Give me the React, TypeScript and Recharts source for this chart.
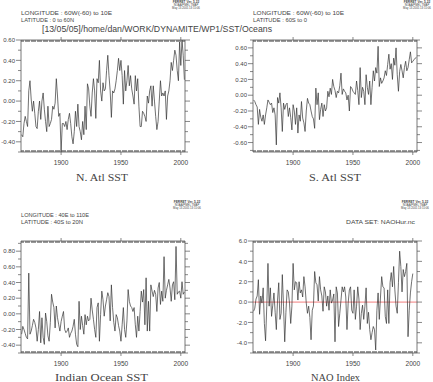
import React from 'react';
import { LineChart, Line, XAxis, YAxis, ReferenceLine } from 'recharts';

const W = 433;
const H = 382;
const START_YEAR = 1867;

// N. Atlantic SST anomaly, annual, 1867-2003
const naValues = [
  -0.33, -0.35, -0.22,
  -0.15, -0.20, -0.25, 0.10, 0.20, 0.02, -0.10, 0.00, -0.12, -0.25,
  -0.27, -0.10, 0.00, -0.18, 0.00, 0.08, -0.08, -0.20, -0.30, -0.05,
  -0.25, -0.22, -0.18, -0.05, -0.08, -0.02, 0.22, 0.05, -0.15, -0.12,
  -0.50, -0.22, -0.22, -0.25, -0.20, -0.28, -0.18, -0.12, -0.22, -0.35,
  -0.42, -0.30, -0.10, -0.25, -0.03, -0.25, -0.30, -0.38, -0.20, -0.33,
  -0.05, -0.28, 0.17, 0.12, -0.05, -0.15, 0.08, 0.22, 0.10, -0.17,
  0.22, 0.18, 0.40, 0.10, 0.00, 0.18, 0.10, 0.12, 0.30, 0.45,
  0.25, 0.10, -0.16, 0.10, 0.08, 0.12, 0.20, 0.30, 0.42, 0.30,
  0.40, 0.25, -0.03, 0.30, 0.10, 0.20, 0.35, 0.15, 0.25, 0.12,
  0.05, -0.03, 0.25, 0.10, 0.22, -0.05, -0.25, -0.25, -0.10, -0.12,
  -0.15, -0.20, 0.05, -0.02, 0.10, 0.15, -0.05, 0.15, 0.00, -0.15,
  -0.28, -0.20, 0.00, 0.20, 0.05, 0.08, 0.05, 0.10, -0.18, 0.05,
  0.10, 0.20, 0.38, 0.30, 0.40, 0.50, 0.45, 0.30, 0.20, 0.58,
  0.35, 0.60, 0.45, 0.21,
];

// S. Atlantic SST anomaly, annual, 1867-2003
const saValues = [
  -0.06, -0.08, -0.12,
  -0.15, -0.37, -0.18, -0.28, -0.33, -0.25, -0.37, -0.25, -0.16, -0.06,
  -0.09, -0.12, -0.10, -0.22, -0.16, -0.25, -0.63, -0.03, -0.10, 0.03,
  -0.16, -0.46, -0.10, -0.18, -0.12, -0.10, -0.27, -0.16, -0.28, -0.44,
  -0.12, -0.20, -0.37, -0.16, -0.48, -0.25, -0.33, -0.08, -0.29, -0.35,
  -0.46, -0.20, -0.04, -0.10, -0.12, -0.20, -0.27, -0.30, -0.42, 0.09,
  -0.12, 0.03, -0.31, -0.18, -0.10, -0.27, -0.12, -0.20, -0.16, 0.05,
  -0.02, 0.09, 0.01, 0.20, 0.11, 0.06, -0.03, 0.05, 0.03, 0.12,
  0.28, 0.01, 0.08, 0.05, 0.03, -0.06, 0.00, -0.20, 0.11, 0.09,
  0.05, 0.03, 0.01, 0.18, 0.06, -0.12, 0.35, -0.03, 0.10, 0.05,
  -0.12, 0.26, 0.10, 0.01, 0.18, -0.12, 0.10, 0.31, 0.18, 0.35,
  0.28, 0.62, 0.11, 0.22, 0.15, 0.18, 0.22, 0.31, 0.25, 0.39,
  0.52, 0.33, 0.40, 0.20, 0.47, 0.38, 0.60, 0.26, 0.05, 0.30,
  0.39, 0.31, 0.22, 0.35, 0.43, 0.31, 0.35, 0.45, 0.55, 0.41,
  0.43, 0.45, 0.47, 0.48,
];

// Indian Ocean SST anomaly, annual, 1867-2003
const ioValues = [
  -0.26, -0.16, -0.20,
  -0.25, -0.30, -0.32, 0.52, -0.26, -0.22, -0.15, -0.07, -0.11, -0.18,
  -0.35, -0.20, 0.03, -0.37, -0.05, -0.30, -0.39, 0.01, -0.10, -0.28,
  -0.35, -0.11, 0.25, 0.15, 0.08, -0.18, 0.10, -0.05, -0.14, -0.22,
  -0.10, -0.03, 0.03, -0.20, -0.24, -0.22, -0.18, -0.30, -0.25, -0.22,
  -0.16, -0.07, -0.26, -0.39, -0.42, 0.16, -0.20, -0.03, -0.15, -0.26,
  -0.01, -0.14, -0.03, -0.09, -0.07, 0.20, 0.05, -0.07, -0.20, -0.30,
  0.08, 0.14, -0.35, -0.01, 0.29, 0.18, -0.03, 0.10, 0.18, 0.27,
  0.22, -0.09, 0.37, 0.08, -0.11, -0.22, -0.01, -0.05, -0.15, -0.22,
  -0.35, -0.14, 0.08, -0.20, -0.30, -0.09, 0.31, 0.16, 0.10, 0.08,
  0.03, 0.08, -0.14, -0.30, -0.03, -0.22, 0.03, 0.29, 0.15, 0.31,
  -0.14, 0.46, -0.22, 0.16, -0.22, 0.37, 0.29, 0.22, 0.30, 0.25,
  0.03, 0.33, 0.40, 0.12, 0.29, 0.16, 0.73, 0.20, 0.30, 0.37,
  0.44, 0.33, 0.16, 0.37, 0.41, 0.18, 0.86, 0.25, 0.28, 0.29,
  0.20, 0.41, 0.25, 0.28,
];

// NAO index, annual, 1867-2000
const naoValues = [
  -0.9, -0.6, 0.3,
  0.6, 2.2, -1.2, 0.6, -0.1, 1.4, -2.1, -3.8, -0.4, 3.8,
  -0.4, 1.4, -1.4, -0.3, 0.9, -1.0, -2.7, 0.2, 1.9, -1.7,
  -1.1, 2.7, -0.4, -3.9, -1.0, 1.2, 1.0, -0.1, -2.1, -0.4,
  3.8, 1.2, 2.0, 1.9, 0.2, 2.0, 0.9, 1.2, 0.5, 2.5,
  1.5, -0.1, -1.1, -0.4, -1.5, -3.7, -0.8, -0.4, 3.0, 1.9,
  1.7, 0.1, 2.5, 1.2, 0.6, -0.9, 1.5, 1.0, -0.4, 0.6,
  -0.8, 1.2, -0.1, 0.2, 0.8, -3.9, 1.5, 0.9, -2.4, -1.1,
  0.2, 1.5, 1.0, 1.5, 0.5, -2.7, -0.1, 1.2, 1.5, -0.8,
  -1.1, 1.2, -1.7, -0.4, 1.5, 0.3, -2.7, -1.1, -0.3, -1.7,
  -0.4, 1.4, -2.1, -1.0, -2.7, -3.7, -3.0, -2.4, -2.7, -4.7,
  -0.8, 0.9, -1.7, 0.5, 2.5, 1.5, 1.4, -1.4, -2.1, 1.2,
  -2.1, 1.9, 2.9, 1.5, 3.5, 1.2, -0.4, -1.1, 1.9, 5.0,
  3.5, 1.0, 3.2, 2.5, 3.0, 3.8, -3.4, -0.8, 0.9, 2.0,
  2.8,
];

const yearDomain = [1866.5, 2003.5];
const yearMajor = [1900, 1950, 2000];
const yearTicks = Array.from({ length: 137 }, (_, i) => START_YEAR + i);

const naYMajor = [-0.4, -0.2, 0, 0.2, 0.4, 0.6];
const naYMinor = [-0.5, -0.3, -0.1, 0.1, 0.3, 0.5];
const saYMajor = [-0.6, -0.4, -0.2, 0, 0.2, 0.4, 0.6];
const saYMinor = [-0.7, -0.5, -0.3, -0.1, 0.1, 0.3, 0.5, 0.7];
const ioYMajor = [-0.4, -0.2, 0, 0.2, 0.4, 0.6, 0.8];
const ioYMinor = [-0.5, -0.3, -0.1, 0.1, 0.3, 0.5, 0.7, 0.9];
const naoYMajor = [-4, -2, 0, 2, 4, 6];
const naoYMinor = [-5, -3, -1, 1, 3, 5];

const SANS = '"Liberation Sans", Arial, sans-serif';
const SERIF = '"Liberation Serif", "Times New Roman", serif';
const AX = '#555';
const TXT = '#444';

const isIn = (arr: number[], v: number) => arr.some((m) => Math.abs(m - v) < 1e-6);

const makeYTick = (side: 'left' | 'right', majors: number[], digits: number) => (props: any) => {
  const { x, y, payload } = props;
  const v = payload.value;
  const major = isIn(majors, v);
  const len = major ? 5 : 3;
  const dir = side === 'left' ? -1 : 1;
  return (
    <g>
      <line x1={x} x2={x + dir * len} y1={y} y2={y} stroke={AX} strokeWidth={0.7} />
      {side === 'left' && major ? (
        <text x={x - 6} y={y} dy="0.36em" textAnchor="end" fontSize={6} fontFamily={SANS} fill={TXT}>
          {v.toFixed(digits)}
        </text>
      ) : null}
    </g>
  );
};

const makeXTick = (side: 'top' | 'bottom') => (props: any) => {
  const { x, y, payload } = props;
  const v = payload.value;
  const major = isIn(yearMajor, v);
  const inward = side === 'bottom' ? -1 : 1;
  return (
    <g>
      <line x1={x} x2={x} y1={y} y2={y + inward * 2} stroke={AX} strokeWidth={0.6} shapeRendering="crispEdges" />
      {major ? (
        <line x1={x} x2={x} y1={y} y2={y - inward * 3} stroke={AX} strokeWidth={0.7} />
      ) : null}
      {side === 'bottom' && major ? (
        <text x={x} y={y + 12.5} textAnchor="middle" fontSize={6.6} fontFamily={SANS} fill={TXT}>
          {String(v)}
        </text>
      ) : null}
    </g>
  );
};

type PanelSpec = {
  values: number[];
  left: number;
  top: number;
  right: number;
  bottom: number;
  yDomain: [number, number];
  yMajor: number[];
  yMinor: number[];
  digits: number;
  zeroLine?: boolean;
};

const panels: PanelSpec[] = [
  { values: naValues, left: 21, top: 40, right: 185, bottom: 152, yDomain: [-0.5, 0.6], yMajor: naYMajor, yMinor: naYMinor, digits: 2 },
  { values: saValues, left: 253, top: 40, right: 417, bottom: 152, yDomain: [-0.72, 0.7], yMajor: saYMajor, yMinor: saYMinor, digits: 2 },
  { values: ioValues, left: 21, top: 241, right: 185, bottom: 353, yDomain: [-0.5, 0.93], yMajor: ioYMajor, yMinor: ioYMinor, digits: 2 },
  { values: naoValues, left: 253, top: 241, right: 417, bottom: 353, yDomain: [-5, 6], yMajor: naoYMajor, yMinor: naoYMinor, digits: 1, zeroLine: true },
];

const AXIS_T = 1; // thickness reserved for each axis band

function Panel({ p }: { p: PanelSpec }) {
  const data = p.values.map((v, i) => ({ year: START_YEAR + i, v }));
  const yTicks = [...p.yMajor, ...p.yMinor].sort((a, b) => a - b);
  return (
    <div style={{ position: 'absolute', left: 0, top: 0, width: W, height: H, pointerEvents: 'none' }}>
      <LineChart
        width={W}
        height={H}
        data={data}
        style={{ overflow: 'visible' }}
        margin={{
          top: p.top - AXIS_T,
          left: p.left - AXIS_T,
          right: W - p.right - AXIS_T,
          bottom: H - p.bottom - AXIS_T,
        }}
      >
        <XAxis
          dataKey="year"
          type="number"
          domain={yearDomain}
          allowDataOverflow
          ticks={yearTicks}
          interval={0}
          height={AXIS_T}
          tickSize={0}
          tickMargin={0}
          tickLine={false}
          axisLine={{ stroke: AX, strokeWidth: 0.8 }}
          tick={makeXTick('bottom')}
        />
        <XAxis
          xAxisId="top"
          orientation="top"
          dataKey="year"
          type="number"
          domain={yearDomain}
          allowDataOverflow
          ticks={yearTicks}
          interval={0}
          height={AXIS_T}
          tickSize={0}
          tickMargin={0}
          tickLine={false}
          axisLine={{ stroke: AX, strokeWidth: 0.8 }}
          tick={makeXTick('top')}
        />
        <YAxis
          type="number"
          domain={p.yDomain}
          allowDataOverflow
          ticks={yTicks}
          interval={0}
          width={AXIS_T}
          tickSize={0}
          tickMargin={0}
          tickLine={false}
          axisLine={{ stroke: AX, strokeWidth: 0.8 }}
          tick={makeYTick('left', p.yMajor, p.digits)}
        />
        <YAxis
          yAxisId="right"
          orientation="right"
          type="number"
          domain={p.yDomain}
          allowDataOverflow
          ticks={yTicks}
          interval={0}
          width={AXIS_T}
          tickSize={0}
          tickMargin={0}
          tickLine={false}
          axisLine={{ stroke: AX, strokeWidth: 0.8 }}
          tick={makeYTick('right', p.yMajor, p.digits)}
        />
        {p.zeroLine ? <ReferenceLine y={0} stroke="#f07070" strokeWidth={0.9} /> : null}
        <Line
          dataKey="v"
          type="linear"
          dot={false}
          stroke="#333"
          strokeWidth={0.7}
          isAnimationActive={false}
        />
      </LineChart>
    </div>
  );
}

function Logo({ cx, y }: { cx: number; y: number }) {
  return (
    <g fontFamily={SANS} fill={TXT} textAnchor="middle">
      <text x={cx} y={y} fontSize={3.2} fontWeight="bold">FERRET Ver. 5.22</text>
      <text x={cx} y={y + 3} fontSize={2.8}>NOAA/PMEL TMAP</text>
      <text x={cx} y={y + 6} fontSize={2.8}>May 13 2005 13:15:06</text>
    </g>
  );
}

export default function App() {
  return (
    <div style={{ position: 'absolute', left: 0, top: 0, width: W, height: H, background: '#fff', overflow: 'hidden' }}>
      {panels.map((p, i) => (
        <Panel key={i} p={p} />
      ))}
      <svg width={W} height={H} style={{ position: 'absolute', left: 0, top: 0, pointerEvents: 'none' }}>
        <Logo cx={186} y={3} />
        <Logo cx={417} y={3} />
        <Logo cx={187} y={203} />
        <Logo cx={415} y={203} />

        <g fontFamily={SANS} fill={TXT} fontSize={6}>
          <text x={21} y={15} textLength={91} lengthAdjust="spacingAndGlyphs">LONGITUDE : 60W(-60) to 10E</text>
          <text x={21} y={22} textLength={53} lengthAdjust="spacingAndGlyphs">LATITUDE : 0 to 60N</text>
          <text x={253} y={15} textLength={91} lengthAdjust="spacingAndGlyphs">LONGITUDE : 60W(-60) to 10E</text>
          <text x={253} y={22} textLength={54} lengthAdjust="spacingAndGlyphs">LATITUDE : 60S to 0</text>
          <text x={21} y={216.5} textLength={68} lengthAdjust="spacingAndGlyphs">LONGITUDE : 40E to 110E</text>
          <text x={21} y={223.5} textLength={62} lengthAdjust="spacingAndGlyphs">LATITUDE : 40S to 20N</text>
          <text x={346} y={223.5} textLength={69} lengthAdjust="spacingAndGlyphs">DATA SET: NAOHur.nc</text>
        </g>
        <text x={42} y={31.5} fontFamily={SANS} fill={TXT} fontSize={9.5} textLength={230} lengthAdjust="spacingAndGlyphs">
          [13/05/05]/home/dan/WORK/DYNAMITE/WP1/SST/Oceans
        </text>

        <g fontFamily={SERIF} fill={TXT} fontSize={11}>
          <text x={76} y={181} textLength={52} lengthAdjust="spacingAndGlyphs">N. Atl SST</text>
          <text x={309} y={181} textLength={52} lengthAdjust="spacingAndGlyphs">S. Atl SST</text>
          <text x={55} y={380.5} textLength={93} lengthAdjust="spacingAndGlyphs">Indian Ocean SST</text>
          <text x={311} y={380.5} textLength={49} lengthAdjust="spacingAndGlyphs">NAO Index</text>
        </g>
      </svg>
    </div>
  );
}
